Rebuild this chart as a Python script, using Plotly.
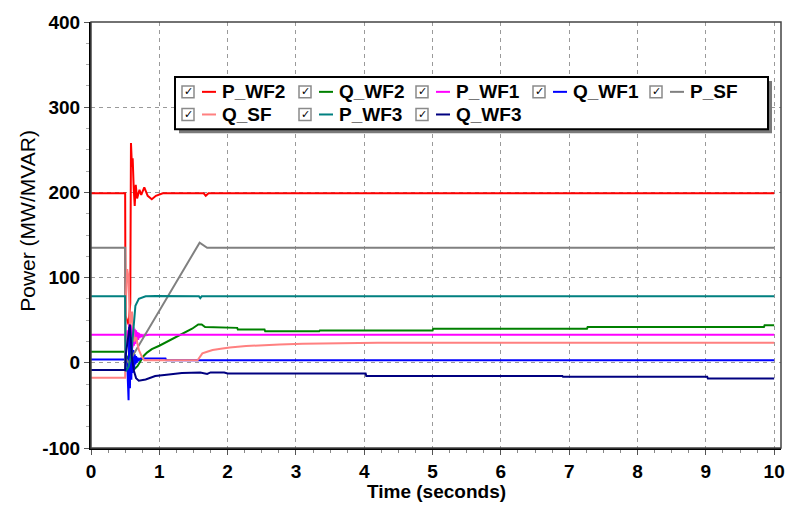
import plotly.graph_objects as go

# ---------------- data ----------------
t_p_wf2 = [0, 0.5, 0.505, 0.55, 0.575, 0.585, 0.6, 0.61, 0.625, 0.64, 0.655, 0.675, 0.71, 0.735,
           0.78, 0.83, 0.89, 0.95, 1.05, 1.65, 1.68, 1.72, 10]
p_wf2 = [199, 199, 55, 45, 70, 258, 230, 240, 205, 184, 209, 193, 203, 197,
         206, 196, 192, 196, 199, 199, 196, 199, 199]

t_q_wf2 = [0, 0.5, 0.52, 0.56, 0.6, 0.64, 0.68, 0.72, 0.77, 0.82, 0.89, 1.0, 1.1, 1.2, 1.3, 1.38,
           1.48, 1.57, 1.62, 1.67, 2.14, 2.15, 2.54, 2.55, 3.34, 3.35, 5.0, 5.01, 7.26, 7.27,
           9.85, 9.86, 10]
q_wf2 = [13, 13, 8, 3, -3, -7, -4, 2, 8, 12, 16, 20, 24, 28, 32, 36,
         40, 45, 45, 42, 41, 39, 39, 37, 37, 38, 38, 40, 40, 42,
         42, 44, 44]

t_p_wf1 = [0, 0.5, 0.51, 0.53, 0.545, 0.56, 0.57, 0.58, 0.59, 0.6, 0.61, 0.62, 0.63, 0.64, 0.65,
           0.66, 0.67, 0.68, 0.69, 0.7, 0.71, 0.72, 0.73, 0.74, 0.76, 0.78, 0.8, 0.85, 10]
p_wf1 = [33, 33, 20, 38, 25, 46, 15, 45, 16, 44, 18, 42, 20, 40, 22,
         38, 25, 36, 27, 35, 29, 34, 30, 33.5, 31, 33, 32.5, 33, 33]

t_q_wf1 = [0, 0.5, 0.51, 0.53, 0.55, 0.56, 0.57, 0.58, 0.59, 0.6, 0.61, 0.62, 0.63, 0.64, 0.65,
           0.66, 0.67, 0.68, 0.7, 0.72, 1.09, 1.1, 10]
q_wf1 = [4, 4, 10, 0, -44, 42, -30, 30, -20, 20, -12, 15, -8, 10, -2,
         8, 0, 6, 3, 5, 5, 3, 3]

t_p_sf = [0, 0.5, 0.505, 0.55, 1.59, 1.7, 10]
p_sf = [135, 135, 5, 0, 141, 135, 135]

t_q_sf = [0, 0.5, 0.505, 0.53, 0.55, 0.57, 0.6, 0.63, 0.66, 0.7, 0.74, 0.78, 1.56, 1.6, 1.63, 1.7,
          1.78, 1.9, 2.03, 2.27, 2.5, 2.76, 3.1, 3.48, 4.2, 5, 6, 10]
q_sf = [-17.5, -17.5, 60, 110, 100, 40, 60, 25, 30, 15, 8, 3, 3, 7, 11, 13,
        15, 16.5, 18, 19.7, 20.8, 21.6, 22.5, 23, 23.5, 23.5, 23.5, 23.5]

t_p_wf3 = [0, 0.5, 0.505, 0.55, 0.59, 0.625, 0.65, 0.7, 0.8, 0.95, 1.58, 1.6, 1.62, 10]
p_wf3 = [78, 78, -10, -5, 10, 48, 67, 75, 78, 78.5, 78, 76, 78, 78]

t_q_wf3 = [0, 0.5, 0.51, 0.54, 0.57, 0.6, 0.63, 0.66, 0.7, 0.8, 0.94, 1.14, 1.33, 1.6, 1.7, 1.75,
           1.95, 2.0, 4.02, 4.03, 6.9, 6.91, 9.02, 9.03, 10]
q_wf3 = [-8.5, -8.5, 10, 30, 45, 5, -10, -18, -21, -19.5, -15.5, -13.7, -12, -11.5, -13, -11.3,
         -11.3, -12.5, -12.5, -15.5, -15.5, -16.5, -16.5, -18.5, -18.5]

series_names = ["P_WF2", "Q_WF2", "P_WF1", "Q_WF1", "P_SF", "Q_SF", "P_WF3", "Q_WF3"]
series_t = [t_p_wf2, t_q_wf2, t_p_wf1, t_q_wf1, t_p_sf, t_q_sf, t_p_wf3, t_q_wf3]
series_v = [p_wf2, q_wf2, p_wf1, q_wf1, p_sf, q_sf, p_wf3, q_wf3]
series_colors = ["#ff0000", "#008000", "#ff00ff", "#0000ff", "#808080", "#ff8080", "#008080", "#000080"]

x_ticks = list(range(0, 11))
y_ticks = [-100, 0, 100, 200, 300, 400]

# ---------------- figure ----------------
W, H = 798, 505
L, R, T, B = 91, 781, 15, 448   # plot area in pixels


def px(xp):
    return (xp - L) / (R - L)


def py(yp):
    return (B - yp) / (B - T)


fig = go.Figure()
for name, tt, vv, col in zip(series_names, series_t, series_v, series_colors):
    fig.add_trace(go.Scatter(x=tt, y=vv, mode="lines", name=name,
                             line=dict(color=col, width=2), showlegend=False))

bold = dict(family="Liberation Sans, Arial", size=19, color="black", weight="bold")

fig.update_layout(
    width=W, height=H,
    margin=dict(l=L, r=W - R, t=T, b=H - B, pad=0),
    paper_bgcolor="white", plot_bgcolor="white",
    showlegend=False,
    xaxis=dict(range=[0, 10.1], tickvals=x_ticks, ticktext=[str(v) for v in x_ticks],
               showgrid=True, gridcolor="#9a9a9a", griddash="4px,4px", gridwidth=1,
               zeroline=False, showline=True, linecolor="black", linewidth=2,
               ticks="outside", ticklen=5, tickcolor="#555", tickfont=bold,
               minor=dict(dtick=0.25, ticks="outside", ticklen=3, tickcolor="#888", showgrid=False)),
    yaxis=dict(range=[-100, 400], tickvals=y_ticks, ticktext=[str(v) for v in y_ticks],
               showgrid=True, gridcolor="#9a9a9a", griddash="4px,4px", gridwidth=1,
               zeroline=False, showline=True, linecolor="black", linewidth=2,
               ticks="outside", ticklen=5, tickcolor="#555", tickfont=bold,
               minor=dict(dtick=25, ticks="outside", ticklen=3, tickcolor="#aaa", showgrid=False)),
)

shapes = []
annotations = []
# thin frame on top / right
shapes.append(dict(type="rect", xref="paper", yref="paper", x0=0, x1=1, y0=0, y1=1,
                   line=dict(color="#444", width=1.5), layer="above"))

# legend box with shadow
lx0, lx1, ly0, ly1 = 175, 768, 71, 124
shapes.append(dict(type="rect", xref="paper", yref="paper",
                   x0=px(lx0 + 4), x1=px(lx1 + 4), y0=py(ly1 + 4), y1=py(ly0 + 4),
                   line=dict(width=0), fillcolor="#7a7a7a", layer="above"))
shapes.append(dict(type="rect", xref="paper", yref="paper",
                   x0=px(lx0), x1=px(lx1), y0=py(ly1), y1=py(ly0),
                   line=dict(color="black", width=2), fillcolor="white", layer="above"))

col_x = [182, 299, 416, 533, 650]
row_y = [86, 109]
for i, (name, col) in enumerate(zip(series_names, series_colors)):
    cx = col_x[i % 5]
    cy = row_y[i // 5]
    # checkbox
    shapes.append(dict(type="rect", xref="paper", yref="paper",
                       x0=px(cx), x1=px(cx + 12), y0=py(cy + 6), y1=py(cy - 6),
                       line=dict(color="#8a8a8a", width=1.5), fillcolor="white", layer="above"))
    annotations.append(dict(xref="paper", yref="paper", x=px(cx + 6), y=py(cy),
                            text="✓", showarrow=False, xanchor="center", yanchor="middle",
                            font=dict(family="DejaVu Sans", size=11, color="black", weight="bold")))
    # line sample
    shapes.append(dict(type="line", xref="paper", yref="paper",
                       x0=px(cx + 20), x1=px(cx + 34), y0=py(cy), y1=py(cy),
                       line=dict(color=col, width=2), layer="above"))
    annotations.append(dict(xref="paper", yref="paper", x=px(cx + 38), y=py(cy),
                            text=name, showarrow=False, xanchor="left", yanchor="middle",
                            font=bold))

# axis titles
annotations.append(dict(xref="paper", yref="paper", x=0.5, y=py(492), text="Time (seconds)",
                        showarrow=False, xanchor="center", yanchor="middle", font=bold))
annotations.append(dict(xref="paper", yref="paper", x=px(28), y=py(217), text="Power (MW/MVAR)",
                        textangle=-90, showarrow=False, xanchor="center", yanchor="middle",
                        font=dict(family="Liberation Sans, Arial", size=21, color="black")))

fig.update_layout(shapes=shapes, annotations=annotations)
fig.write_html("out.html")
